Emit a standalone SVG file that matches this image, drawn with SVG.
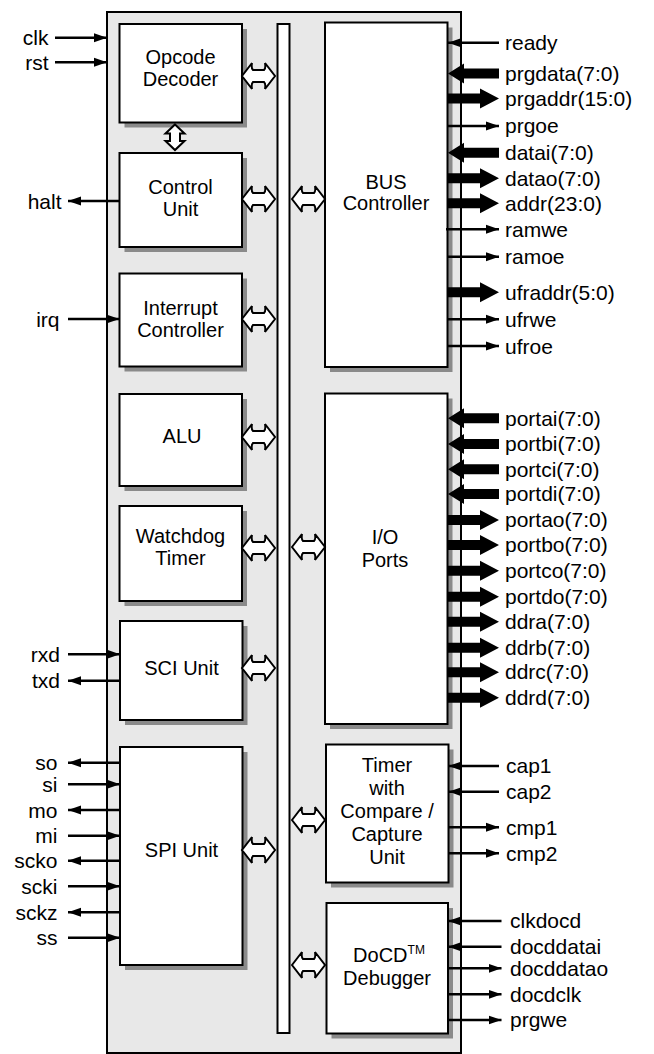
<svg xmlns="http://www.w3.org/2000/svg" xmlns:xlink="http://www.w3.org/1999/xlink" width="654" height="1054" viewBox="0 0 654 1054">
<style>
.outer{fill:#e8e8e8;stroke:#000;stroke-width:2}
.box{fill:#fff;stroke:#000;stroke-width:2}
.shadow{fill:#8a8a8a}
.bar{fill:#fff;stroke:#000;stroke-width:2}
.hol{fill:#fff;stroke:#000;stroke-width:2;stroke-linejoin:miter}
.sig{stroke:#000;stroke-width:2.6;fill:none}
.thick{fill:#000}
.lbl{font-family:'Liberation Sans',Arial,sans-serif;font-size:20px;fill:#000;text-anchor:middle}
.pin{font-family:'Liberation Sans',Arial,sans-serif;font-size:21px;fill:#000}
.pl{text-anchor:end}
</style>
<defs>
<marker id="ah" markerUnits="userSpaceOnUse" markerWidth="13" markerHeight="10" refX="13" refY="5" orient="auto">
<path d="M0,0.5 L13,5 L0,9.5 Z" fill="#000"/>
</marker>
<path id="hArr" class="hol" d="M0,0 L10,-13 Q9,-8 11,-6 H22 Q24,-8 23,-13 L33,0 L23,13 Q24,8 22,6 H11 Q9,8 10,13 Z"/>
<path id="thR" class="thick" d="M0,-5 H33 V-10 L52,0 L33,10 V5 H0 Z"/>
<path id="thL" class="thick" d="M0,0 L16,-10 V-5 H51 V5 H16 V10 Z"/>
</defs>

<rect class="outer" x="107" y="12" width="354" height="1041"/>

<g id="bus-bar"><rect class="bar" x="277.5" y="24" width="12" height="1009"/></g>

<g id="opcode-decoder">
<rect class="shadow" x="124.5" y="29" width="122.5" height="98.5"/>
<rect class="box" x="119.5" y="24" width="122.5" height="98.5"/>
<text class="lbl" x="180.5" y="64">Opcode</text>
<text class="lbl" x="180.5" y="86">Decoder</text>
</g>
<g id="control-unit">
<rect class="shadow" x="124.5" y="158" width="122.5" height="94"/>
<rect class="box" x="119.5" y="153" width="122.5" height="94"/>
<text class="lbl" x="180.5" y="194">Control</text>
<text class="lbl" x="180.5" y="216">Unit</text>
</g>
<g id="interrupt-controller">
<rect class="shadow" x="124.5" y="278.5" width="122.5" height="93"/>
<rect class="box" x="119.5" y="273.5" width="122.5" height="93"/>
<text class="lbl" x="180.5" y="315">Interrupt</text>
<text class="lbl" x="180.5" y="337">Controller</text>
</g>
<g id="alu">
<rect class="shadow" x="124.5" y="399" width="122.5" height="92"/>
<rect class="box" x="119.5" y="394" width="122.5" height="92"/>
<text class="lbl" x="182" y="442.5">ALU</text>
</g>
<g id="watchdog-timer">
<rect class="shadow" x="124.5" y="511" width="122.5" height="95"/>
<rect class="box" x="119.5" y="506" width="122.5" height="95"/>
<text class="lbl" x="180.5" y="543">Watchdog</text>
<text class="lbl" x="180.5" y="565">Timer</text>
</g>
<g id="sci-unit">
<rect class="shadow" x="125" y="626" width="122.5" height="99"/>
<rect class="box" x="120" y="621" width="122.5" height="99"/>
<text class="lbl" x="181.5" y="674.5">SCI Unit</text>
</g>
<g id="spi-unit">
<rect class="shadow" x="125" y="752" width="122.5" height="218"/>
<rect class="box" x="120" y="747" width="122.5" height="218"/>
<text class="lbl" x="181.5" y="857">SPI Unit</text>
</g>

<g id="bus-controller">
<rect class="shadow" x="330" y="27.5" width="122.5" height="344.5"/>
<rect class="box" x="325" y="22.5" width="122.5" height="344.5"/>
<text class="lbl" x="386" y="188.5">BUS</text>
<text class="lbl" x="386" y="210">Controller</text>
</g>
<g id="io-ports">
<rect class="shadow" x="330" y="398.5" width="122.5" height="330.5"/>
<rect class="box" x="325" y="393.5" width="122.5" height="330.5"/>
<text class="lbl" x="385" y="543.5">I/O</text>
<text class="lbl" x="385" y="567">Ports</text>
</g>
<g id="timer-unit">
<rect class="shadow" x="331" y="749.5" width="122.5" height="138"/>
<rect class="box" x="326" y="744.5" width="122.5" height="138"/>
<text class="lbl" x="387" y="772">Timer</text>
<text class="lbl" x="387" y="794.5">with</text>
<text class="lbl" x="387" y="817.5">Compare /</text>
<text class="lbl" x="387" y="841">Capture</text>
<text class="lbl" x="387" y="863.5">Unit</text>
</g>
<g id="docd-debugger">
<rect class="shadow" x="331.5" y="908" width="121.5" height="130.5"/>
<rect class="box" x="326.5" y="903" width="121.5" height="130.5"/>
<text class="lbl" x="389" y="962">DoCD<tspan font-size="12" dy="-8">TM</tspan></text>
<text class="lbl" x="387" y="984.5">Debugger</text>
</g>

<g id="connectors">
<use xlink:href="#hArr" x="242" y="76"/>
<use xlink:href="#hArr" x="242" y="199"/>
<use xlink:href="#hArr" x="242" y="319"/>
<use xlink:href="#hArr" x="242" y="437"/>
<use xlink:href="#hArr" x="242" y="548"/>
<use xlink:href="#hArr" x="242" y="668"/>
<use xlink:href="#hArr" x="242" y="850"/>
<use xlink:href="#hArr" x="292" y="199"/>
<use xlink:href="#hArr" x="292" y="547"/>
<use xlink:href="#hArr" x="292" y="820"/>
<use xlink:href="#hArr" x="292" y="965"/>
<path class="hol" d="M175,124.5 L184.5,133.5 H180 V141 H184.5 L175,150 L165.5,141 H170 V133.5 H165.5 Z"/>

<line class="sig" x1="55" y1="37.7" x2="107" y2="37.7" marker-end="url(#ah)"/>
<line class="sig" x1="55" y1="62.3" x2="107" y2="62.3" marker-end="url(#ah)"/>
<line class="sig" x1="119.5" y1="201" x2="68" y2="201" marker-end="url(#ah)"/>
<line class="sig" x1="68" y1="319" x2="119.5" y2="319" marker-end="url(#ah)"/>
<line class="sig" x1="68" y1="654.3" x2="120" y2="654.3" marker-end="url(#ah)"/>
<line class="sig" x1="120" y1="680.7" x2="68" y2="680.7" marker-end="url(#ah)"/>
<line class="sig" x1="120" y1="762.7" x2="68" y2="762.7" marker-end="url(#ah)"/>
<line class="sig" x1="68" y1="784.3" x2="120" y2="784.3" marker-end="url(#ah)"/>
<line class="sig" x1="120" y1="810" x2="68" y2="810" marker-end="url(#ah)"/>
<line class="sig" x1="68" y1="835.7" x2="120" y2="835.7" marker-end="url(#ah)"/>
<line class="sig" x1="120" y1="860.7" x2="68" y2="860.7" marker-end="url(#ah)"/>
<line class="sig" x1="68" y1="886.3" x2="120" y2="886.3" marker-end="url(#ah)"/>
<line class="sig" x1="120" y1="912.3" x2="68" y2="912.3" marker-end="url(#ah)"/>
<line class="sig" x1="68" y1="937.7" x2="120" y2="937.7" marker-end="url(#ah)"/>

<line class="sig" x1="499" y1="42.7" x2="448" y2="42.7" marker-end="url(#ah)"/>
<use xlink:href="#thL" x="448" y="73.5"/>
<use xlink:href="#thR" x="447" y="98.5"/>
<line class="sig" x1="447" y1="126" x2="499" y2="126" marker-end="url(#ah)"/>
<use xlink:href="#thL" x="448" y="152.7"/>
<use xlink:href="#thR" x="447" y="178.3"/>
<use xlink:href="#thR" x="447" y="203.3"/>
<line class="sig" x1="446" y1="229.3" x2="499" y2="229.3" marker-end="url(#ah)"/>
<line class="sig" x1="447" y1="256.7" x2="499" y2="256.7" marker-end="url(#ah)"/>
<use xlink:href="#thR" x="447" y="292.3"/>
<line class="sig" x1="447" y1="319.3" x2="499" y2="319.3" marker-end="url(#ah)"/>
<line class="sig" x1="447" y1="346" x2="499" y2="346" marker-end="url(#ah)"/>

<use xlink:href="#thL" x="448" y="418.3"/>
<use xlink:href="#thL" x="448" y="444"/>
<use xlink:href="#thL" x="448" y="469.3"/>
<use xlink:href="#thL" x="448" y="494"/>
<use xlink:href="#thR" x="447" y="520"/>
<use xlink:href="#thR" x="447" y="545"/>
<use xlink:href="#thR" x="447" y="570.7"/>
<use xlink:href="#thR" x="447" y="596.7"/>
<use xlink:href="#thR" x="447" y="621.7"/>
<use xlink:href="#thR" x="447" y="647.7"/>
<use xlink:href="#thR" x="447" y="672.3"/>
<use xlink:href="#thR" x="447" y="697.7"/>

<line class="sig" x1="499" y1="766" x2="448.5" y2="766" marker-end="url(#ah)"/>
<line class="sig" x1="499" y1="791.7" x2="448.5" y2="791.7" marker-end="url(#ah)"/>
<line class="sig" x1="448.5" y1="827.3" x2="499" y2="827.3" marker-end="url(#ah)"/>
<line class="sig" x1="448.5" y1="853.3" x2="499" y2="853.3" marker-end="url(#ah)"/>

<line class="sig" x1="501.5" y1="921" x2="448" y2="921" marker-end="url(#ah)"/>
<line class="sig" x1="501.5" y1="946.7" x2="448" y2="946.7" marker-end="url(#ah)"/>
<line class="sig" x1="448" y1="968.3" x2="501.5" y2="968.3" marker-end="url(#ah)"/>
<line class="sig" x1="448" y1="994.3" x2="501.5" y2="994.3" marker-end="url(#ah)"/>
<line class="sig" x1="448" y1="1020" x2="501.5" y2="1020" marker-end="url(#ah)"/>
</g>

<g id="pin-labels">
<text class="pin pl" x="48.5" y="45">clk</text>
<text class="pin pl" x="48.5" y="69.5">rst</text>
<text class="pin pl" x="61.5" y="208.5">halt</text>
<text class="pin pl" x="59.5" y="326.5">irq</text>
<text class="pin pl" x="60" y="661.5">rxd</text>
<text class="pin pl" x="60" y="688">txd</text>
<text class="pin pl" x="57.5" y="770">so</text>
<text class="pin pl" x="57.5" y="791.5">si</text>
<text class="pin pl" x="57.5" y="817.5">mo</text>
<text class="pin pl" x="57.5" y="843">mi</text>
<text class="pin pl" x="57.5" y="868">scko</text>
<text class="pin pl" x="57.5" y="893.5">scki</text>
<text class="pin pl" x="57.5" y="919.5">sckz</text>
<text class="pin pl" x="57.5" y="945">ss</text>

<text class="pin" x="505" y="50">ready</text>
<text class="pin" x="505" y="81">prgdata(7:0)</text>
<text class="pin" x="505" y="106">prgaddr(15:0)</text>
<text class="pin" x="505" y="133">prgoe</text>
<text class="pin" x="505" y="160">datai(7:0)</text>
<text class="pin" x="505" y="185.5">datao(7:0)</text>
<text class="pin" x="505" y="210.5">addr(23:0)</text>
<text class="pin" x="505" y="236.5">ramwe</text>
<text class="pin" x="505" y="264">ramoe</text>
<text class="pin" x="505" y="299.5">ufraddr(5:0)</text>
<text class="pin" x="505" y="326.5">ufrwe</text>
<text class="pin" x="505" y="353.5">ufroe</text>

<text class="pin" x="505" y="425.5">portai(7:0)</text>
<text class="pin" x="505" y="451">portbi(7:0)</text>
<text class="pin" x="505" y="476.5">portci(7:0)</text>
<text class="pin" x="505" y="501">portdi(7:0)</text>
<text class="pin" x="505" y="527">portao(7:0)</text>
<text class="pin" x="505" y="552">portbo(7:0)</text>
<text class="pin" x="505" y="577.5">portco(7:0)</text>
<text class="pin" x="505" y="603.5">portdo(7:0)</text>
<text class="pin" x="505" y="628.5">ddra(7:0)</text>
<text class="pin" x="505" y="654.5">ddrb(7:0)</text>
<text class="pin" x="505" y="679">ddrc(7:0)</text>
<text class="pin" x="505" y="704.5">ddrd(7:0)</text>

<text class="pin" x="506" y="773">cap1</text>
<text class="pin" x="506" y="798.5">cap2</text>
<text class="pin" x="506" y="834.5">cmp1</text>
<text class="pin" x="506" y="860.5">cmp2</text>

<text class="pin" x="510" y="928">clkdocd</text>
<text class="pin" x="510" y="953.5">docddatai</text>
<text class="pin" x="510" y="975.5">docddatao</text>
<text class="pin" x="510" y="1001.5">docdclk</text>
<text class="pin" x="510" y="1027">prgwe</text>
</g>
</svg>
